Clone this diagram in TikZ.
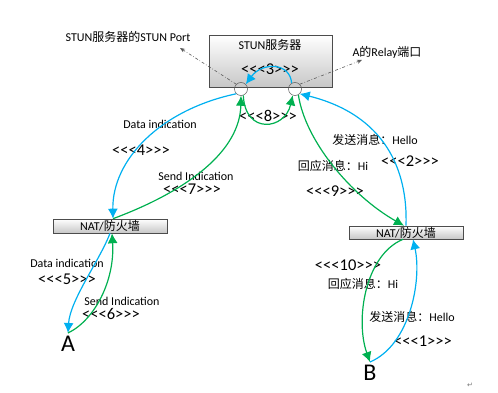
\documentclass[tikz,border=0pt]{standalone}
\usepackage{fontspec}
\setmainfont{Carlito}[Ligatures=TeXOff]
\newfontfamily\cjk{Noto Sans CJK SC}
\newfontfamily\symb{DejaVu Sans}
\usetikzlibrary{arrows.meta}
\definecolor{skyline}{HTML}{00B0F0}
\definecolor{leafline}{HTML}{00B050}

\begin{document}
\begin{tikzpicture}[x=1pt,y=-1pt,
      box/.style={draw=black!70,line width=0.6pt,top color=white,bottom color=black!22,inner sep=0pt,font=\fontsize{12}{14}\selectfont},
      port/.style={circle,draw=black!65,line width=0.5pt,minimum size=13pt,inner sep=0pt},
      blu/.style={draw=skyline,line width=1.2pt,-{Latex[length=10pt,width=10pt]}},
      grn/.style={draw=leafline,line width=1.2pt,-{Latex[length=10pt,width=10pt]}},
      note/.style={draw=black!65,line width=0.6pt,dash dot,-{Stealth[length=5pt,width=4pt]}},
      lbl/.style={font=\fontsize{12}{14}\selectfont,inner sep=0pt},
      num/.style={font=\fontsize{16.5}{18}\selectfont,inner sep=0pt},
      host/.style={font=\fontsize{24}{26}\selectfont,inner xsep=0pt,inner ysep=3pt,anchor=north}]
    \useasboundingbox (0,0) rectangle (498,393);
    \node[box,minimum width=123pt,minimum height=52pt] (stun) at (270.5,61) {};
    \node[lbl] (stunname) at (270,45) {STUN{\cjk 服务器}};
    \node[box,minimum width=114pt,minimum height=14pt] (natl) at (110,226) {NAT/{\cjk 防火墙}};
    \node[box,minimum width=114pt,minimum height=13pt] (natr) at (406,232.5) {NAT/{\cjk 防火墙}};
    \node[port] (portl) at (241,89) {};
    \node[port] (portr) at (295,89) {};
    \node[host] (pa) at (68,333) {A};
    \node[host] (pb) at (370,362) {B};
    \node[lbl] (portlname) at (128,37) {STUN{\cjk 服务器的}STUN Port};
    \node[lbl] (portrname) at (387,52) {A{\cjk 的}Relay{\cjk 端口}};
    \coordinate (portlnote) at (180,48);
    \coordinate (portrnote) at (362,60);
    \draw[note] (portl.north west) -- (portlnote);
    \draw[note] (portr.north east) -- (portrnote);
    \foreach \k/\lx/\ly in {1/423/341,2/410/161,3/270/69,4/141/150,5/67/279,6/111/314,7/192/189,8/268/116,9/335/191,10/348/265}
      \node[num] (n\k) at (\lx,\ly) {<<<\k>>>};
    \foreach \k/\lx/\ly/\t in {4/160/124/Data indication,5/67/263/Data indication,7/196/176/Send Indication,6/122/301/Send Indication}
      \node[lbl] (t\k) at (\lx,\ly) {\t};
    \node[lbl] (t2) at (375,140) {{\cjk 发送消息：}Hello};
    \node[lbl] (t1) at (412,317) {{\cjk 发送消息：}Hello};
    \node[lbl] (t9) at (333,166) {{\cjk 回应消息：}Hi};
    \node[lbl] (t10) at (363,284) {{\cjk 回应消息：}Hi};
    \draw[blu] (pb.north) .. controls (410,345) and (422,280) .. ([xshift=7pt]natr.south);
    \draw[blu] (natr.north) .. controls (408,170) and (385,115) .. (portr.south east);
    \draw[blu] (portr.120) .. controls (290,62) and (262,62) .. (portl.north east);
    \draw[blu] (portl.south west) .. controls (160,110) and (112,160) .. ([xshift=3pt]natl.north);
    \draw[blu] (natl.south) .. controls (100,260) and (70,300) .. (pa.north);
    \draw[grn] (pa.north) .. controls (95,320) and (115,280) .. ([xshift=2pt]natl.south);
    \draw[grn] ([xshift=3pt]natl.north) .. controls (190,190) and (240,150) .. (portl.south);
    \draw[grn] (portl.-70) .. controls (245,135) and (285,130) .. (portr.-110);
    \draw[grn] (portr.-60) .. controls (305,140) and (350,195) .. ([xshift=-2pt]natr.north);
    \draw[grn] ([xshift=-3pt]natr.south) .. controls (365,255) and (355,320) .. (pb.north);
    \node[font=\symb\fontsize{7}{8}\selectfont,text=black!55] (ret) at (470,385) {↵};
  \end{tikzpicture}
\end{document}
